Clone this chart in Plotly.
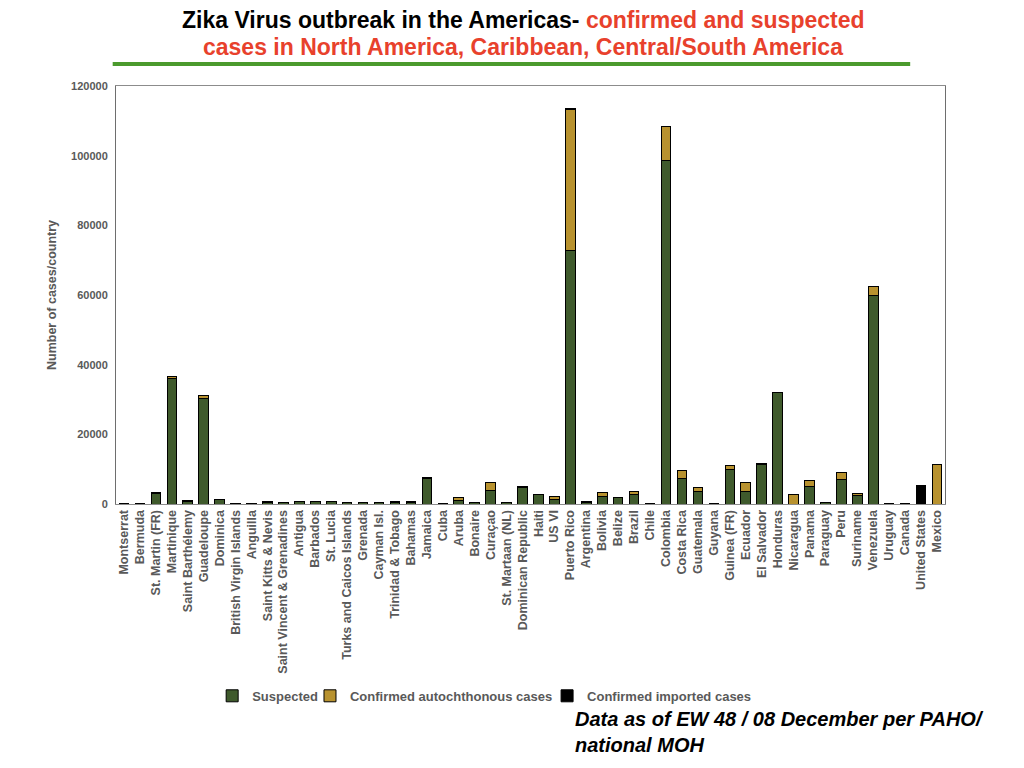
import plotly.graph_objects as go

# Zika cases per country, stacked by case type
countries = [
    "Montserrat", "Bermuda", "St. Martin (FR)", "Martinique", "Saint Barthélemy",
    "Guadeloupe", "Dominica", "British Virgin Islands", "Anguilla",
    "Saint Kitts & Nevis", "Saint Vincent & Grenadines", "Antigua", "Barbados",
    "St. Lucia", "Turks and Caicos Islands", "Grenada", "Cayman Isl.",
    "Trinidad & Tobago", "Bahamas", "Jamaica", "Cuba", "Aruba", "Bonaire",
    "Curaçao", "St. Martaan (NL)", "Dominican Republic", "Haiti", "US VI",
    "Puerto Rico", "Argentina", "Bolivia", "Belize", "Brazil", "Chile",
    "Colombia", "Costa Rica", "Guatemala", "Guyana", "Guinea (FR)", "Ecuador",
    "El Salvador", "Honduras", "Nicaragua", "Panama", "Paraguay", "Peru",
    "Suriname", "Venezuela", "Uruguay", "Canada", "United States", "Mexico",
]
suspected = [
    40, 30, 2900, 36100, 800, 30300, 1250, 200, 150, 550, 300, 600, 600,
    650, 350, 350, 400, 300, 500, 7400, 0, 1100, 350, 4000, 300, 4800,
    2700, 1200, 72700, 500, 2100, 1750, 2600, 0, 98500, 7300, 3450, 50,
    10000, 3450, 11400, 31900, 0, 5150, 450, 7100, 2300, 59800, 0, 0, 0, 0,
]
confirmed_auto = [
    20, 0, 300, 560, 200, 900, 80, 50, 40, 100, 80, 150, 170, 150, 130,
    120, 100, 450, 100, 250, 150, 800, 100, 2200, 100, 150, 150, 1000,
    40600, 50, 1250, 150, 1050, 0, 9800, 2200, 1200, 50, 1100, 2650, 250,
    250, 2750, 1700, 100, 1850, 750, 2600, 0, 0, 0, 11350,
]
confirmed_imported = [
    0, 10, 0, 0, 0, 0, 0, 0, 0, 0, 0, 0, 0, 0, 0, 0, 50, 0, 100, 0, 50, 0,
    0, 0, 0, 0, 0, 0, 200, 100, 0, 0, 0, 30, 0, 0, 0, 0, 0, 0, 0, 0, 0, 0,
    0, 0, 0, 0, 30, 60, 5350, 0,
]

GREEN = "#3f5a2c"
TAN = "#b8922f"
GREY_TEXT = "#595959"
TITLE_RED = "#e8412c"

series = [
    ("Suspected", suspected, GREEN, "legend"),
    ("Confirmed autochthonous cases", confirmed_auto, TAN, "legend2"),
    ("Confirmed imported cases", confirmed_imported, "black", "legend3"),
]

fig = go.Figure()
for name, values, color, legend_id in series:
    fig.add_trace(go.Bar(
        x=countries,
        y=values,
        name=name,
        legend=legend_id,
        showlegend=True,
        marker=dict(color=color, line=dict(color="black", width=1)),
    ))

legend_font = dict(family="Arial", size=13, color=GREY_TEXT, weight="bold")
title_font = dict(family="Arial", size=23, color="black", weight="bold")


def legend_at(x):
    return dict(
        x=x, y=-0.459, xanchor="left", yanchor="middle",
        orientation="h", font=legend_font, bgcolor="rgba(0,0,0,0)",
    )


def title_line(text, y):
    # the slide title is two separately spaced lines above the green rule
    return dict(
        text=text, xref="paper", yref="paper", x=0.491, y=y,
        xanchor="center", yanchor="middle", showarrow=False, font=title_font,
    )


fig.update_layout(
    width=1024,
    height=768,
    margin=dict(l=108, r=87, t=78, b=272, autoexpand=False),
    paper_bgcolor="white",
    plot_bgcolor="white",
    barmode="stack",
    bargap=0.4,
    showlegend=True,
    legend=legend_at(0.116),
    legend2=legend_at(0.234),
    legend3=legend_at(0.52),
    xaxis=dict(
        tickmode="array",
        tickvals=countries,
        tickangle=-90,
        tickfont=dict(family="Arial", size=12.5, color=GREY_TEXT, weight="bold"),
        showline=True, linecolor="#8c8c8c", linewidth=1, mirror=True,
        showgrid=False, ticks="",
    ),
    yaxis=dict(
        range=[0, 120000],
        dtick=20000,
        tickformat="d",
        ticklabelstandoff=5,
        tickfont=dict(family="Arial", size=11, color=GREY_TEXT, weight="bold"),
        title=dict(
            text="Number of cases/country",
            font=dict(family="Arial", size=12.5, color=GREY_TEXT, weight="bold"),
            standoff=11,
        ),
        showline=True, linecolor="#6e6e6e", linewidth=1, mirror=True,
        showgrid=False, zeroline=False, ticks="",
    ),
    shapes=[dict(
        type="line", xref="paper", yref="paper",
        x0=-0.004, x1=0.958, y0=1.0526, y1=1.0526,
        line=dict(color="#4b9a2d", width=4),
    )],
    annotations=[
        title_line(
            "Zika Virus outbreak in the Americas- "
            f"<span style='color:{TITLE_RED}'>confirmed and suspected</span>",
            1.157,
        ),
        title_line(
            f"<span style='color:{TITLE_RED}'>cases in North America, Caribbean, "
            "Central/South America</span>",
            1.094,
        ),
        dict(
            text="<b><i>Data as of EW 48 / 08 December per PAHO/<br>national MOH</i></b>",
            xref="paper", yref="paper", x=0.551, y=-0.545,
            xanchor="left", yanchor="middle", align="left", showarrow=False,
            font=dict(family="Arial", size=20, color="black"),
        ),
    ],
)

fig.write_html("out.html")
